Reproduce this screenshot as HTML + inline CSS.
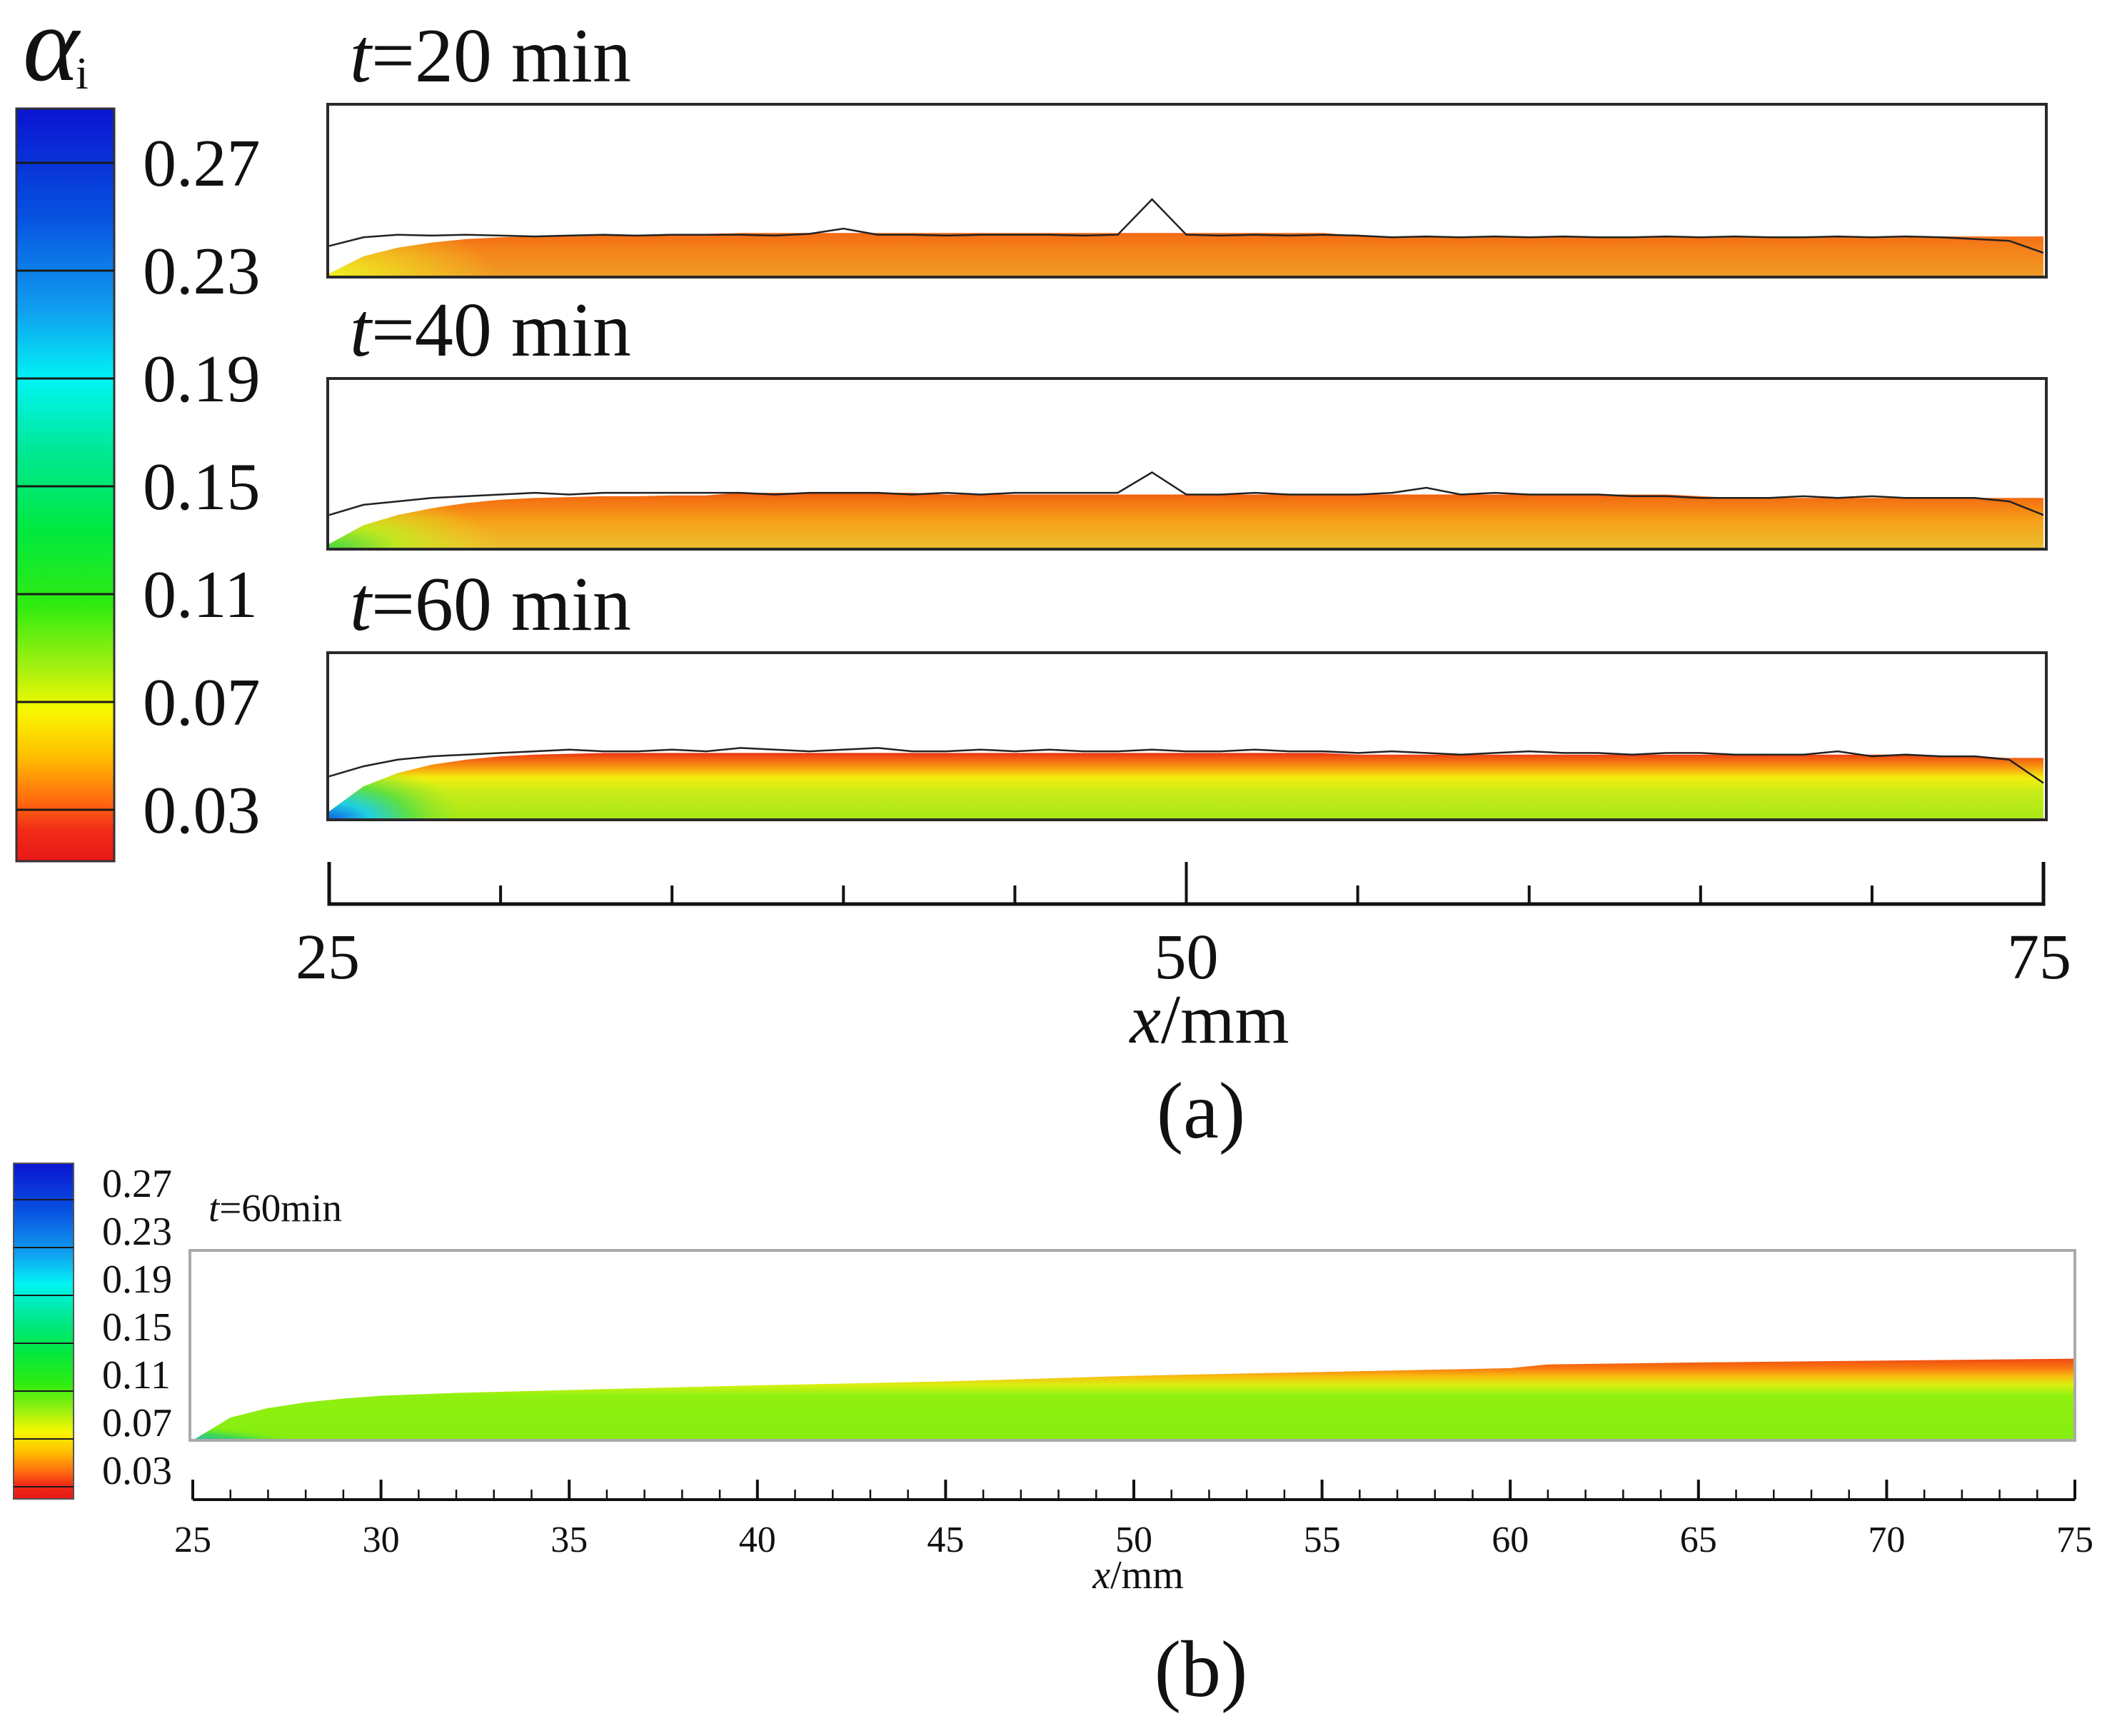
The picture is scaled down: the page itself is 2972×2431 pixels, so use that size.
<!DOCTYPE html>
<html><head><meta charset="utf-8"><style>
html,body{margin:0;padding:0;background:#fff;}
svg{display:block;font-family:"Liberation Serif",serif;}
</style></head><body>
<svg id="fig" width="2972" height="2431" viewBox="0 0 2972 2431" xmlns="http://www.w3.org/2000/svg">
<defs>
<linearGradient id="cbar" x1="0" y1="0" x2="0" y2="1">
<stop offset="0" stop-color="#0a14d0"/><stop offset="0.14" stop-color="#0850e0"/><stop offset="0.27" stop-color="#10a0f0"/><stop offset="0.36" stop-color="#00f4f4"/><stop offset="0.46" stop-color="#00e890"/><stop offset="0.56" stop-color="#00e840"/><stop offset="0.66" stop-color="#30ec10"/><stop offset="0.74" stop-color="#a0f010"/><stop offset="0.8" stop-color="#f8f800"/><stop offset="0.86" stop-color="#ffc000"/><stop offset="0.92" stop-color="#ff6a10"/><stop offset="0.96" stop-color="#f02a18"/><stop offset="1" stop-color="#e81818"/>
</linearGradient>
<radialGradient id="c1" cx="0" cy="1" r="1"><stop offset="0" stop-color="#f0f020"/><stop offset="1" stop-color="#f0f020" stop-opacity="0"/></radialGradient>
<radialGradient id="c2" cx="0" cy="1" r="1"><stop offset="0" stop-color="#40d840"/><stop offset="0.4" stop-color="#c0e820"/><stop offset="1" stop-color="#f0e020" stop-opacity="0"/></radialGradient>
<radialGradient id="c3" cx="0" cy="1" r="1"><stop offset="0" stop-color="#1060e8"/><stop offset="0.3" stop-color="#20d0e0"/><stop offset="0.6" stop-color="#60e040"/><stop offset="1" stop-color="#a0e820" stop-opacity="0"/></radialGradient>
<radialGradient id="cb" cx="0" cy="1" r="1"><stop offset="0" stop-color="#1050e8"/><stop offset="0.5" stop-color="#20a0f0"/><stop offset="0.8" stop-color="#40d850"/><stop offset="1" stop-color="#80f010" stop-opacity="0"/></radialGradient>
</defs>
<g id="root"></g>
</svg>
<script>
const xsA = [];
for (let v = 25; v <= 75; v++) xsA.push(v);
const fill20 = [0.02,0.12,0.17,0.2,0.22,0.23,0.235,0.235,0.24,0.245,0.25,0.25,0.255,0.255,0.255,0.255,0.255,0.255,0.255,0.255,0.255,0.255,0.255,0.255,0.255,0.255,0.255,0.255,0.255,0.255,0.24,0.235,0.235,0.235,0.235,0.235,0.235,0.235,0.235,0.235,0.235,0.235,0.235,0.235,0.235,0.235,0.235,0.235,0.235,0.235,0.235];
const line20 = [0.18,0.23,0.245,0.24,0.245,0.24,0.235,0.24,0.245,0.24,0.245,0.245,0.245,0.24,0.25,0.28,0.245,0.245,0.24,0.245,0.245,0.245,0.24,0.245,0.45,0.245,0.24,0.245,0.24,0.245,0.24,0.23,0.235,0.23,0.235,0.23,0.235,0.23,0.23,0.235,0.23,0.235,0.23,0.23,0.235,0.23,0.235,0.23,0.22,0.21,0.14];
const fill40 = [0.03,0.14,0.2,0.24,0.27,0.29,0.3,0.305,0.31,0.31,0.315,0.315,0.33,0.33,0.33,0.33,0.33,0.33,0.32,0.32,0.32,0.32,0.32,0.32,0.32,0.32,0.32,0.32,0.32,0.32,0.32,0.32,0.32,0.32,0.32,0.32,0.32,0.32,0.32,0.32,0.31,0.3,0.3,0.3,0.3,0.3,0.3,0.3,0.3,0.3,0.3];
const line40 = [0.2,0.26,0.28,0.3,0.31,0.32,0.33,0.32,0.33,0.33,0.33,0.33,0.33,0.32,0.33,0.33,0.33,0.32,0.33,0.32,0.33,0.33,0.33,0.33,0.45,0.32,0.32,0.33,0.32,0.32,0.32,0.33,0.36,0.32,0.33,0.32,0.32,0.32,0.31,0.31,0.3,0.3,0.3,0.31,0.3,0.31,0.3,0.3,0.3,0.28,0.2];
const fill60 = [0.05,0.2,0.28,0.33,0.36,0.38,0.39,0.395,0.4,0.4,0.4,0.4,0.4,0.4,0.4,0.4,0.4,0.4,0.4,0.4,0.4,0.4,0.4,0.4,0.4,0.4,0.4,0.4,0.4,0.4,0.39,0.39,0.39,0.39,0.39,0.39,0.39,0.39,0.39,0.39,0.39,0.39,0.39,0.39,0.39,0.39,0.39,0.38,0.38,0.37,0.37];
const line60 = [0.26,0.32,0.36,0.38,0.39,0.4,0.41,0.42,0.41,0.41,0.42,0.41,0.43,0.42,0.41,0.42,0.43,0.41,0.41,0.42,0.41,0.42,0.41,0.41,0.42,0.41,0.41,0.42,0.41,0.41,0.4,0.41,0.4,0.39,0.4,0.41,0.4,0.4,0.39,0.4,0.4,0.39,0.39,0.39,0.41,0.38,0.39,0.38,0.38,0.36,0.22];
const xsB = [25,26,27,28,29,30,32,35,40,45,50,55,60,61,65,70,75];
const fillB = [0.0,0.12,0.17,0.2,0.22,0.235,0.25,0.265,0.29,0.31,0.34,0.36,0.38,0.4,0.41,0.42,0.43];
const cbarLabels = ["0.27","0.23","0.19","0.15","0.11","0.07","0.03"];
const axisALabels = [25,50,75];
const axisBLabels = [25,30,35,40,45,50,55,60,65,70,75];

const NS = "http://www.w3.org/2000/svg";
const root = document.getElementById('root');
const defs = document.querySelector('defs');
function mk(tag, attrs, parent) {
  const e = document.createElementNS(NS, tag);
  for (const k in attrs) e.setAttribute(k, attrs[k]);
  (parent || root).appendChild(e);
  return e;
}
const AX0 = 461, AX1 = 2862;
const xA = v => AX0 + (v - 25) / 50 * (AX1 - AX0);
const BX0 = 270, BX1 = 2906;
const xB = v => BX0 + (v - 25) / 50 * (BX1 - BX0);

// colorbar (a)
const cbA = mk('rect', {x:23, y:152, width:137, height:1054, fill:'url(#cbar)', stroke:'#333', 'stroke-width':3});


cbarLabels.forEach((lab, i) => {
  const y = 228 + i * 151;
  const ln = mk('line', {x1:23, x2:160, y1:y, y2:y, stroke:'#1a1a1a', 'stroke-width':3});
  
  
  const t = mk('text', {x:200, y:y + 32, 'font-size':94, fill:'#111'});
  t.textContent = lab;
  
  
});
const alpha = mk('text', {x:32, y:112, 'font-size':150, 'font-style':'italic', fill:'#111'});
alpha.textContent = 'α';


const sub = mk('text', {x:106, y:124, 'font-size':64, fill:'#111'});
sub.textContent = 'i';



// panels (a)
const panels = [
  {top:146, bot:388, label:'20', fill:fill20, line:line20, corner:'c1', cw:0.1, stops:[['#e41c18',0],['#ec3414',0.1],['#f26012',0.3],['#f5801a',0.6],['#f09a26',1]], name:'panel-t20'},
  {top:530, bot:769, label:'40', fill:fill40, line:line40, corner:'c2', cw:0.1, stops:[['#e41c18',0],['#ec3a14',0.1],['#f47012',0.3],['#f6a018',0.6],['#ecc030',1]], name:'panel-t40'},
  {top:914, bot:1148, label:'60', fill:fill60, line:line60, corner:'c3', cw:0.08, stops:[['#e41c18',0],['#f05012',0.1],['#f89a10',0.25],['#f4ee10',0.4],['#c8ec18',0.6],['#a8e818',1]], name:'panel-t60'}
];
panels.forEach((p, pi) => {
  const h = p.bot - p.top;
  const gid = 'g' + pi;
  const lg = mk('linearGradient', {id:gid, gradientUnits:'userSpaceOnUse', x1:0, x2:0, y1:p.bot - 0.42 * h, y2:p.bot}, defs);
  p.stops.forEach(s => mk('stop', {offset:s[1], 'stop-color':s[0]}, lg));
  let d = 'M' + xA(25) + ',' + p.bot;
  xsA.forEach((v, i) => { d += ' L' + xA(v).toFixed(1) + ',' + (p.bot - p.fill[i] * h).toFixed(1); });
  d += ' L' + xA(75) + ',' + p.bot + ' Z';
  const cp = mk('clipPath', {id:'clip' + pi}, defs);
  mk('path', {d:d}, cp);
  const f = mk('path', {d:d, fill:'url(#' + gid + ')'});
  
  
  const c = mk('rect', {x:xA(25), y:p.bot - h * 0.35, width:(AX1 - AX0) * p.cw, height:h * 0.35, fill:'url(#' + p.corner + ')', 'clip-path':'url(#clip' + pi + ')'});
  
  
  let pts = xsA.map((v, i) => xA(v).toFixed(1) + ',' + (p.bot - p.line[i] * h).toFixed(1)).join(' ');
  const pl = mk('polyline', {points:pts, fill:'none', stroke:'#222', 'stroke-width':2.5});
  
  
  const box = mk('rect', {x:459, y:p.top, width:2407, height:h, fill:'none', stroke:'#2a2a2a', 'stroke-width':4});
  
  
  const t = mk('text', {x:490, y:p.top - 32, 'font-size':108, fill:'#111'});
  t.innerHTML = '<tspan font-style="italic">t</tspan>=' + p.label + ' min';
  
  
});

// axis (a)
const axA = mk('path', {d:'M' + AX0 + ',1207 L' + AX0 + ',1266 L' + AX1 + ',1266 L' + AX1 + ',1207', fill:'none', stroke:'#111', 'stroke-width':5});


for (let v = 30; v < 75; v += 5) {
  const major = v === 50;
  const tk = mk('line', {x1:xA(v), x2:xA(v), y1:major ? 1207 : 1240, y2:1266, stroke:'#111', 'stroke-width':4});
  
  
}
axisALabels.forEach(v => {
  const t = mk('text', {x:xA(v) + (v === 25 ? -2 : v === 75 ? -6 : 0), y:1370, 'font-size':90, 'text-anchor':'middle', fill:'#111'});
  t.textContent = v;
  
  
});
const xtA = mk('text', {x:1694, y:1460, 'font-size':98, 'text-anchor':'middle', fill:'#111'});
xtA.innerHTML = '<tspan font-style="italic">x</tspan>/mm';


const capA = mk('text', {x:1682, y:1593, 'font-size':112, 'text-anchor':'middle', fill:'#111'});
capA.textContent = '(a)';



// colorbar (b)
const cbB = mk('rect', {x:19, y:1629, width:84, height:470, fill:'url(#cbar)', stroke:'#555', 'stroke-width':2});


cbarLabels.forEach((lab, i) => {
  const y = 1680 + i * 67;
  const ln = mk('line', {x1:19, x2:103, y1:y, y2:y, stroke:'#1a1a1a', 'stroke-width':2});
  
  
  const t = mk('text', {x:143, y:y - 4, 'font-size':56, fill:'#111'});
  t.textContent = lab;
  
  
});
const tb = mk('text', {x:292, y:1710, 'font-size':55, fill:'#111'});
tb.innerHTML = '<tspan font-style="italic">t</tspan>=60min';



// panel (b)
const PBT = 1751, PBB = 2017, PBH = PBB - PBT;
const lgB = mk('linearGradient', {id:'gB', gradientUnits:'userSpaceOnUse', x1:0, x2:0, y1:PBB - 0.43 * PBH, y2:PBB}, defs);
[['#f04a12',0],['#f87a10',0.12],['#f8c010',0.22],['#d8f010',0.32],['#90f010',0.45],['#86ee10',1]].forEach(s => mk('stop', {offset:s[1], 'stop-color':s[0]}, lgB));
let dB = 'M' + xB(25) + ',' + PBB;
xsB.forEach((v, i) => { dB += ' L' + xB(v).toFixed(1) + ',' + (PBB - fillB[i] * PBH).toFixed(1); });
dB += ' L' + xB(75) + ',' + PBB + ' Z';
const cpB = mk('clipPath', {id:'clipB'}, defs);
mk('path', {d:dB}, cpB);
const fB = mk('path', {d:dB, fill:'url(#gB)'});


const cB = mk('ellipse', {cx:xB(25.8), cy:PBB, rx:(BX1 - BX0) * 0.06, ry:PBH * 0.1, fill:'url(#cb)', 'clip-path':'url(#clipB)'});


const boxB = mk('rect', {x:266, y:PBT, width:2640, height:PBH, fill:'none', stroke:'#aaa', 'stroke-width':4});



// axis (b)
const axB = mk('line', {x1:xB(25), x2:xB(75), y1:2100, y2:2100, stroke:'#111', 'stroke-width':4});


for (let v = 25; v <= 75; v++) {
  const major = v % 5 === 0;
  const tk = mk('line', {x1:xB(v), x2:xB(v), y1:major ? 2072 : 2086, y2:2100, stroke:'#111', 'stroke-width':major ? 4 : 2.5});
  
  
}
axisBLabels.forEach(v => {
  const t = mk('text', {x:xB(v), y:2173, 'font-size':52, 'text-anchor':'middle', fill:'#111'});
  t.textContent = v;
  
  
});
const xtB = mk('text', {x:1594, y:2224, 'font-size':56, 'text-anchor':'middle', fill:'#111'});
xtB.innerHTML = '<tspan font-style="italic">x</tspan>/mm';


const capB = mk('text', {x:1682, y:2375, 'font-size':112, 'text-anchor':'middle', fill:'#111'});
capB.textContent = '(b)';


</script>
</body></html>
